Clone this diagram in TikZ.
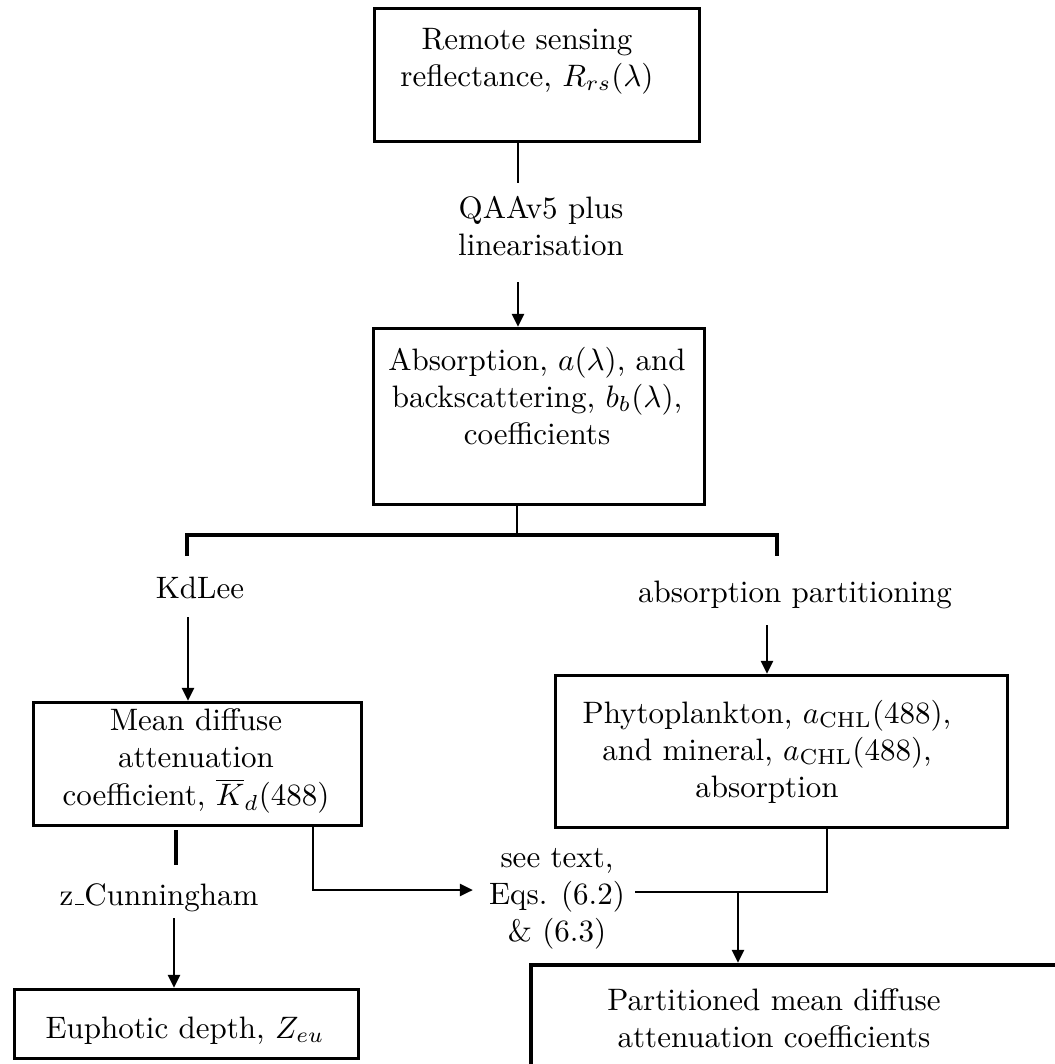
\documentclass[tikz,border=0pt]{standalone}
\usetikzlibrary{arrows.meta}
\newcommand\mlines[1]{\begin{tabular}[t]{@{}c@{}}#1\end{tabular}}
\newcommand\lowbar{\leavevmode\kern.06em\vbox{\hrule width.3em}}
\def\pxu{0.3226pt}
\begin{document}
\begin{tikzpicture}[x=0.3226pt,y=-0.3226pt,
  box/.style={draw, line width=0.95pt, inner sep=0pt, anchor=north west},
  lbl/.style={inner sep=0pt, anchor=base},
  conn/.style={line width=0.95pt},
  arr/.style={line width=0.95pt, -{Triangle[length=4.2pt,width=3.8pt]}},
  branchline/.style={line width=1.2pt}]
\useasboundingbox (0,0) rectangle (1055,1064);
\clip (0,0) rectangle (1055,1064);

% boxes
\node[box, minimum width={325*\pxu}, minimum height={133*\pxu}] (b1) at (373,7) {};
\node[box, minimum width={331*\pxu}, minimum height={176*\pxu}] (b2) at (372,327) {};
\node[box, minimum width={328*\pxu}, minimum height={123*\pxu}] (b3) at (32,701) {};
\node[box, minimum width={452*\pxu}, minimum height={152*\pxu}] (b4) at (554,674) {};
\node[box, line width=1.1pt, minimum width={344*\pxu}, minimum height={69*\pxu}] (b5) at (13,988) {};
\node[box, line width=1.3pt, minimum width={600*\pxu}, minimum height={200*\pxu}] (b6) at (529,963) {};

% box texts
\node[lbl] (t1) at (527,49) {\mlines{Remote sensing\\reflectance, $R_{rs}(\lambda)$}};
\node[lbl] (t2) at (537,370) {\mlines{Absorption, $a(\lambda)$, and\\backscattering, $b_b(\lambda)$,\\coefficients}};
\node[lbl] (t3) at (196,730) {\mlines{Mean diffuse\\attenuation\\coefficient, $\overline{K}_d(488)$}};
\node[lbl] (t4) at (767,723) {\mlines{Phytoplankton, $a_{\mathrm{CHL}}(488)$,\\and mineral, $a_{\mathrm{CHL}}(488)$,\\absorption}};
\node[lbl, anchor=base west] (t5) at (45,1038) {Euphotic depth, $Z_{eu}$};
\node[lbl] (t6) at (774,1010) {\mlines{Partitioned mean diffuse\\attenuation coefficients}};

% connector labels
\node[lbl] (qaa) at (541,218) {\mlines{QAAv5 plus\\linearisation}};
\node[lbl] (kd) at (200,598) {KdLee};
\node[lbl] (ap) at (795,602) {absorption partitioning};
\node[lbl] (zc) at (159,905) {z\lowbar Cunningham};
\node[lbl] (eq) at (557,867) {\mlines{see text,\\Eqs. (6.2)\\\& (6.3)}};

% connector coordinates
\coordinate (e1) at (518,183);
\coordinate (s2) at (518,282);
\coordinate (br) at (517,535);
\coordinate (bl) at (187,535);
\coordinate (brr) at (777,535);
\coordinate (dl) at (187,556);
\coordinate (dr) at (777,556);
\coordinate (s3) at (188,617);
\coordinate (s4) at (767,625);
\coordinate (z1) at (176,830);
\coordinate (z2) at (176,865);
\coordinate (s5) at (174,918);
\coordinate (k1) at (313,890);
\coordinate (e2) at (473,890);
\coordinate (k2) at (827,892);
\coordinate (k3) at (635,892);
\coordinate (k4) at (738,892);

% connectors
\draw[conn] (b1.south -| e1) -- (e1);
\draw[arr] (s2) -- (b2.north -| s2);
\draw[conn, line width=0.75pt] (b2.south -| br) -- (br);
\draw[branchline] (dl) -- (bl) -- (brr) -- (dr);
\draw[arr] (s3) -- (b3.north -| s3);
\draw[arr] (s4) -- (b4.north -| s4);
\draw[conn, line width=1.05pt] (z1) -- (z2);
\draw[arr] (s5) -- (b5.north -| s5);
\draw[arr] (b3.south -| k1) -- (k1) -- (e2);
\draw[conn] (b4.south -| k2) -- (k2) -- (k3);
\draw[arr] (k4) -- (b6.north -| k4);
\end{tikzpicture}
\end{document}
